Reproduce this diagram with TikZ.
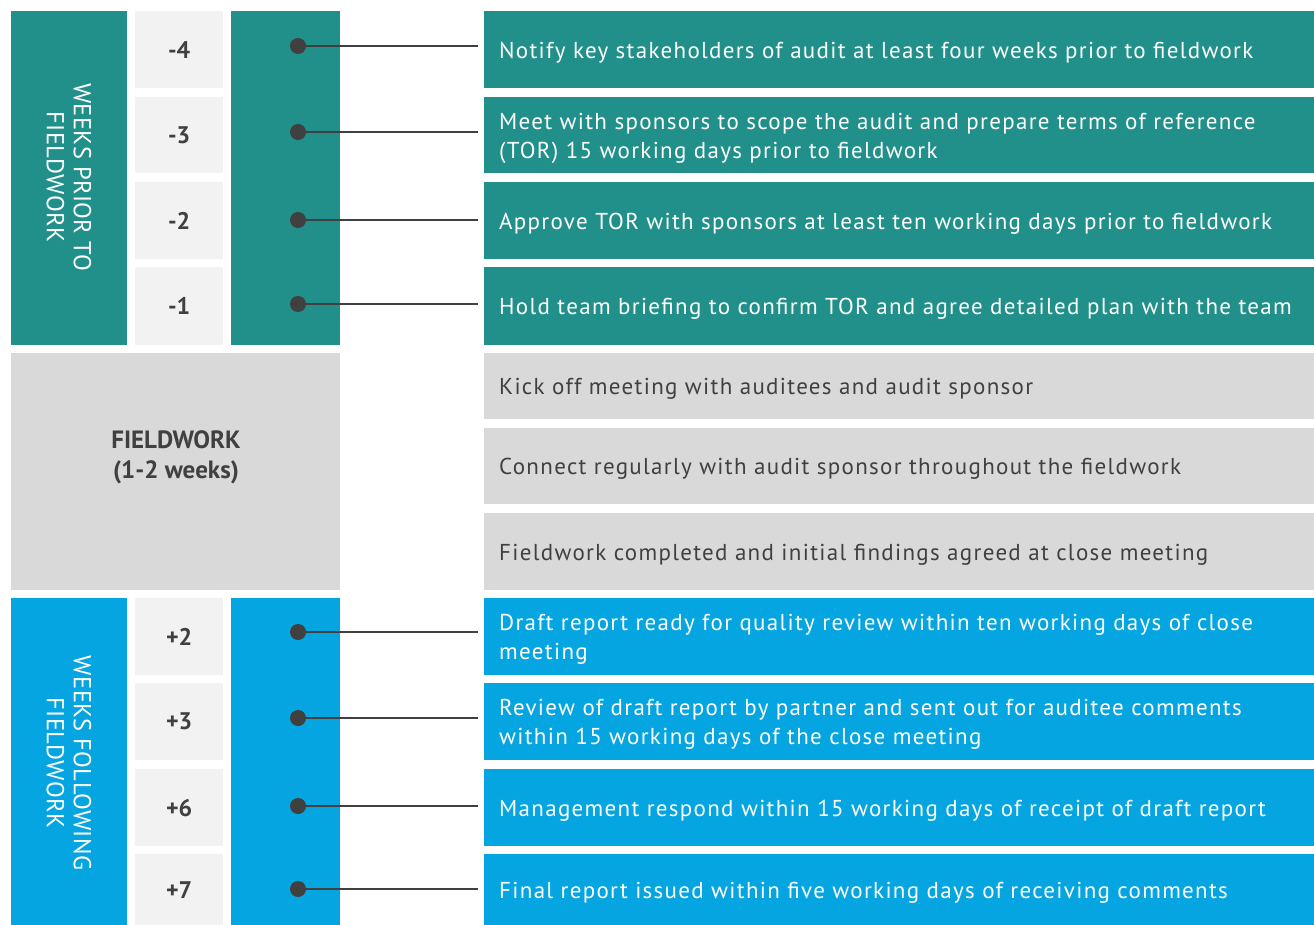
\documentclass[tikz,border=0pt]{standalone}
\usepackage{fontspec}
\setmainfont{PT Sans}
\newfontfamily\taskfont[LetterSpace=5.7]{PT Sans}
\newfontfamily\sidefont[LetterSpace=1.5]{PT Sans}
\definecolor{teal}{RGB}{33,144,138}
\definecolor{sky}{RGB}{4,165,224}
\definecolor{midgray}{RGB}{217,217,217}
\definecolor{paler}{RGB}{242,242,242}
\definecolor{ink}{RGB}{64,64,64}
\begin{document}
\hyphenpenalty=10000
\exhyphenpenalty=10000
\begin{tikzpicture}[x=1pt,y=-1pt,
  panel/.style={draw=none,anchor=north west,inner sep=0pt,minimum width=#1},
  weekcell/.style={panel=88,fill=paler,text=ink,font=\fontsize{24}{26}\selectfont\bfseries},
  stem/.style={panel=109},
  taskbox/.style={panel=830},
  tasktext/.style={anchor=west,text width=800,inner sep=0pt,align=flush left,
    font=\taskfont\fontsize{23}{29}\selectfont},
  sidelabel/.style={rotate=-90,align=center,text=white,font=\sidefont\fontsize{24.5}{27}\selectfont},
  dot/.style={circle,fill=ink,inner sep=0pt,minimum size=16},
  link/.style={draw=ink,line width=2pt}]
\useasboundingbox (0,0) rectangle (1314,925);

% phase bands on the left
\node[panel=116,fill=teal,minimum height=334] (pre) at (11,11) {};
\node[sidelabel] (prelabel) at (69,177) {WEEKS PRIOR TO\\FIELDWORK};
\node[panel=329,fill=midgray,minimum height=237] (fw) at (11,353) {};
\node[text=ink,align=center,font=\fontsize{25}{30}\selectfont\bfseries] (fwlabel) at (176,457) {FIELDWORK\\(1-2 weeks)};
\node[panel=116,fill=sky,minimum height=327] (post) at (11,598) {};
\node[sidelabel] (postlabel) at (69,763) {WEEKS FOLLOWING\\FIELDWORK};

% stems carrying the markers
\node[stem,fill=teal,minimum height=334] (spre) at (231,11) {};
\node[stem,fill=sky,minimum height=327] (spost) at (231,598) {};

% week cells
\foreach \n/\top/\h/\lbl in {a/11/77/-4,b/97/76/-3,c/182/77/-2,d/267/78/-1,
                             e/598/77/+2,f/683/77/+3,g/769/77/+6,h/854/71/+7}{
  \node[weekcell,minimum height=\h] (w\n) at (135,\top) {\lbl};
}

% task boxes
\foreach \n/\top/\h/\c in {a/11/77/teal,b/97/76/teal,c/182/77/teal,d/267/78/teal,
                           k/353/66/midgray,l/428/76/midgray,m/513/77/midgray,
                           e/598/77/sky,f/683/77/sky,g/769/77/sky,h/854/71/sky}{
  \node[taskbox,fill=\c,minimum height=\h] (t\n) at (484,\top) {};
}

% task texts
\begin{scope}[every node/.append style={tasktext,text=white}]
\node (xa) at ([xshift=15pt,yshift=-3pt]ta.west) {Notify key stakeholders of audit at least four weeks prior to fieldwork};
\node (xb) at ([xshift=15pt,yshift=-3pt]tb.west) {Meet with sponsors to scope the audit and prepare terms of reference (TOR) 15 working days prior to fieldwork};
\node (xc) at ([xshift=15pt,yshift=-3pt]tc.west) {Approve TOR with sponsors at least ten working days prior to fieldwork};
\node (xd) at ([xshift=15pt,yshift=-3pt]td.west) {Hold team briefing to confirm TOR and agree detailed plan with the team};
\node[text=ink] (xk) at ([xshift=15pt,yshift=-3pt]tk.west) {Kick off meeting with auditees and audit sponsor};
\node[text=ink] (xl) at ([xshift=15pt,yshift=-3pt]tl.west) {Connect regularly with audit sponsor throughout the fieldwork};
\node[text=ink] (xm) at ([xshift=15pt,yshift=-3pt]tm.west) {Fieldwork completed and initial findings agreed at close meeting};
\node (xe) at ([xshift=15pt,yshift=-3pt]te.west) {Draft report ready for quality review within ten working days of close meeting};
\node (xf) at ([xshift=15pt,yshift=-3pt]tf.west) {Review of draft report by partner and sent out for auditee comments within 15 working days of the close meeting};
\node (xg) at ([xshift=15pt,yshift=-3pt]tg.west) {Management respond within 15 working days of receipt of draft report};
\node (xh) at ([xshift=15pt,yshift=-3pt]th.west) {Final report issued within five working days of receiving comments};
\end{scope}

% markers and leader lines
\foreach \n/\y in {a/46,b/132,c/220,d/304,e/632,f/718,g/806,h/889}{
  \node[dot] (d\n) at (298,\y) {};
  \coordinate (e\n) at ([xshift=-6pt]t\n.west |- 0,\y);
  \draw[link] (d\n.center) -- (e\n);
}
\end{tikzpicture}
\end{document}
